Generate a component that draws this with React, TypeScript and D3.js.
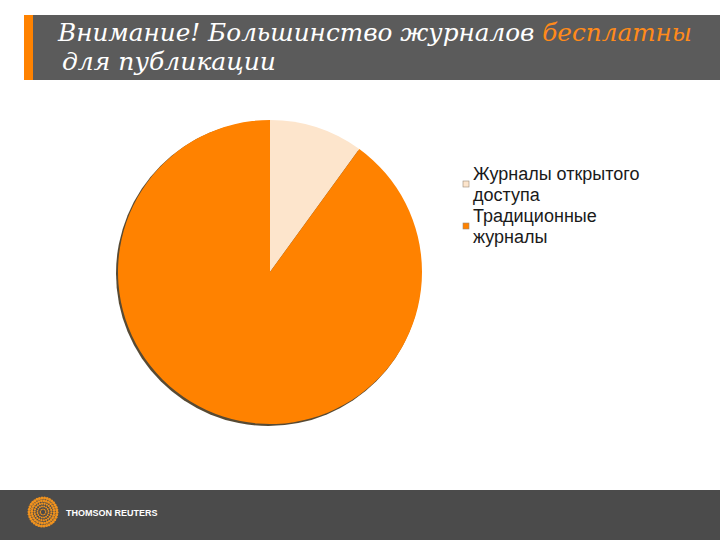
import React from "react";
import * as d3 from "d3";

const categories = ["Журналы открытого доступа", "Традиционные журналы"];
const values = [10, 90];
const colors = ["#fde5cc", "#ff8200"];
const legendLines = [["Журналы открытого", "доступа"], ["Традиционные", "журналы"]];
const titleLine1 = "Внимание! Большинство журналов ";
const titleAccent = "бесплатны";
const titleLine2 = "для публикации";

export default function App() {
  const W = 720, H = 540;
  const cx = 270, cy = 272, r = 152;
  const pie = d3.pie<number>().sort(null).value((d) => d)(values);
  const arc = d3.arc<d3.PieArcDatum<number>>().innerRadius(0).outerRadius(r);

  const dots: { x: number; y: number; rr: number }[] = [];
  d3.range(1, 6).forEach((ring) => {
    const n = ring * 6 + 4;
    d3.range(n).forEach((i) => {
      const a = (i / n) * Math.PI * 2 + ring * 0.3;
      const rad = ring * 2.8;
      dots.push({ x: 43 + Math.cos(a) * rad, y: 512 + Math.sin(a) * rad, rr: 0.6 + ring * 0.18 });
    });
  });

  return (
    <svg width={W} height={H} style={{ position: "absolute", left: 0, top: 0 }}>
      <rect x={0} y={0} width={W} height={H} fill="#ffffff" />
      <rect x={24} y={15} width={696} height={65} fill="#5b5b5b" />
      <rect x={24} y={15} width={9} height={65} fill="#ff8200" />
      <text x={58} y={41} fontFamily="DejaVu Serif, Liberation Serif, serif" fontStyle="italic" fontSize={23.5} fill="#ffffff" textLength={634} lengthAdjust="spacingAndGlyphs">
        {titleLine1}
        <tspan fill="#ff8a1a">{titleAccent}</tspan>
      </text>
      <text x={62} y={70} fontFamily="DejaVu Serif, Liberation Serif, serif" fontStyle="italic" fontSize={23.5} fill="#ffffff" textLength={214} lengthAdjust="spacingAndGlyphs">
        {titleLine2}
      </text>

      <g transform={`translate(${cx},${cy})`}>
        <circle cx={-1.5} cy={1.5} r={r + 0.5} fill="#3a2a10" opacity={0.85} />
        {pie.map((p, i) => (
          <path key={categories[i]} d={arc(p) || ""} fill={colors[i]} />
        ))}
      </g>

      {legendLines.map((lines, i) => (
        <g key={categories[i]}>
          <rect x={463} y={i === 0 ? 181 : 223} width={6} height={6} fill={colors[i]} stroke="#9a8a7a" strokeWidth={0.6} />
          {lines.map((t, j) => (
            <text key={t} x={473} y={(i === 0 ? 180 : 222) + j * 21} fontFamily="Liberation Sans, Arial, sans-serif" fontSize={18} fill="#1a1a1a">
              {t}
            </text>
          ))}
        </g>
      ))}

      <rect x={0} y={490} width={W} height={50} fill="#4b4b4b" />
      {dots.map((d, i) => (
        <circle key={i} cx={d.x} cy={d.y} r={d.rr} fill="#f0921e" />
      ))}
      <text x={66} y={516} fontFamily="Liberation Sans, Arial, sans-serif" fontWeight="bold" fontSize={9} fill="#ffffff">
        THOMSON REUTERS
      </text>
    </svg>
  );
}
